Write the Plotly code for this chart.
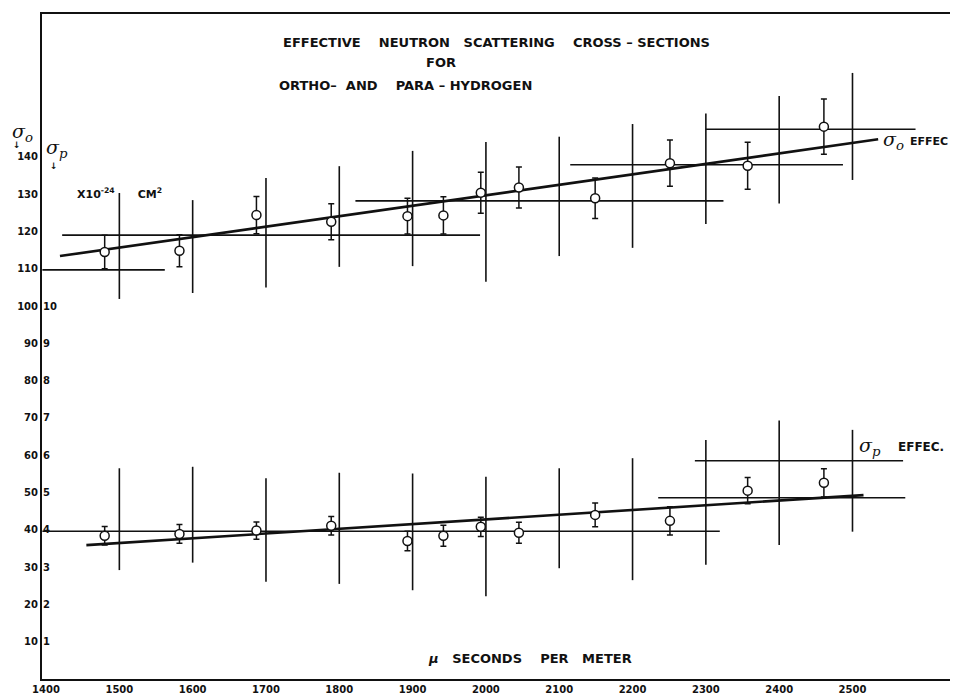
import plotly.graph_objects as go

# ---------------- data ----------------
# neutron flight time, micro-seconds per meter
speed = [1480, 1582, 1687, 1789, 1893, 1942, 1993, 2045, 2149, 2251, 2357, 2461]

# ortho-hydrogen effective cross-section, x10^-24 cm^2
ortho = [114.5, 114.8, 124.4, 122.6, 124.1, 124.3, 130.4, 131.8, 128.9, 138.3, 137.6, 148.1]
ortho_err = [4.5, 4.3, 5.0, 4.8, 4.8, 5.0, 5.5, 5.5, 5.4, 6.2, 6.3, 7.4]

# para-hydrogen effective cross-section, x10^-24 cm^2
para = [3.84, 3.89, 3.98, 4.11, 3.70, 3.84, 4.08, 3.92, 4.40, 4.24, 5.05, 5.26]
para_err = [0.25, 0.25, 0.23, 0.25, 0.26, 0.28, 0.26, 0.28, 0.32, 0.38, 0.35, 0.38]

# long vertical bars at each hundred
bar_x = [1500, 1600, 1700, 1800, 1900, 2000, 2100, 2200, 2300, 2400, 2500]
ortho_bar_lo = [101.9, 103.5, 105.0, 110.5, 110.7, 106.5, 113.4, 115.6, 122.0, 127.5, 133.8]
ortho_bar_hi = [130.3, 128.4, 134.3, 137.5, 141.6, 144.0, 145.4, 148.8, 151.6, 156.3, 162.5]
para_bar_lo = [2.92, 3.12, 2.61, 2.55, 2.38, 2.22, 2.97, 2.65, 3.06, 3.59, 3.95]
para_bar_hi = [5.65, 5.69, 5.38, 5.53, 5.51, 5.42, 5.65, 5.92, 6.41, 6.93, 6.68]

# horizontal level lines
ortho_h_start = [1395, 1422, 1822, 2115, 2300]
ortho_h_end = [1562, 1992, 2324, 2487, 2586]
ortho_h_level = [109.7, 119.0, 128.2, 137.9, 147.4]
para_h_start = [1395, 2235, 2285]
para_h_end = [2319, 2572, 2569]
para_h_level = [3.96, 4.86, 5.85]

# straight-line fits ("EFFEC")
ortho_fit_x = [1419, 2535]
ortho_fit_y = [113.4, 144.7]
para_fit_x = [1455, 2515]
para_fit_y = [3.59, 4.93]

# tick labels
x_ticks = [1400, 1500, 1600, 1700, 1800, 1900, 2000, 2100, 2200, 2300, 2400, 2500]
ortho_ticks = [10, 20, 30, 40, 50, 60, 70, 80, 90, 100, 110, 120, 130, 140]
para_ticks = [1, 2, 3, 4, 5, 6, 7, 8, 9, 10]

# ---------------- helpers ----------------
def vsegs(xs, lo, hi):
    X, Y = [], []
    for x, a, b in zip(xs, lo, hi):
        X += [x, x, None]
        Y += [a, b, None]
    return X, Y


def hsegs(x0, x1, lev):
    X, Y = [], []
    for a, b, y in zip(x0, x1, lev):
        X += [a, b, None]
        Y += [y, y, None]
    return X, Y


INK = "#111111"
fig = go.Figure()

for (lo, hi, yax) in [(ortho_bar_lo, ortho_bar_hi, "y"), (para_bar_lo, para_bar_hi, "y2")]:
    X, Y = vsegs(bar_x, lo, hi)
    fig.add_trace(go.Scatter(x=X, y=Y, yaxis=yax, mode="lines",
                             line=dict(color=INK, width=1.6), hoverinfo="skip",
                             showlegend=False))

for (a, b, lev, yax) in [(ortho_h_start, ortho_h_end, ortho_h_level, "y"),
                         (para_h_start, para_h_end, para_h_level, "y2")]:
    X, Y = hsegs(a, b, lev)
    fig.add_trace(go.Scatter(x=X, y=Y, yaxis=yax, mode="lines",
                             line=dict(color=INK, width=1.6), hoverinfo="skip",
                             showlegend=False))

fig.add_trace(go.Scatter(x=ortho_fit_x, y=ortho_fit_y, yaxis="y", mode="lines",
                         line=dict(color=INK, width=2.6), showlegend=False))
fig.add_trace(go.Scatter(x=para_fit_x, y=para_fit_y, yaxis="y2", mode="lines",
                         line=dict(color=INK, width=2.6), showlegend=False))

for (vals, errs, yax) in [(ortho, ortho_err, "y"), (para, para_err, "y2")]:
    fig.add_trace(go.Scatter(
        x=speed, y=vals, yaxis=yax, mode="markers",
        marker=dict(symbol="circle", size=9, color="white",
                    line=dict(color=INK, width=1.5)),
        error_y=dict(type="data", array=errs, visible=True, color=INK,
                     thickness=1.5, width=3),
        showlegend=False))

# ---------------- layout ----------------
L, R, T, B, W, H = 42, 3, 14, 21, 953, 700
PW, PH = W - L - R, H - T - B


def px(xp, yp):
    return (xp - L) / PW, (H - B - yp) / PH


tick_font = dict(family="DejaVu Sans", size=10, color=INK, weight="bold")
text_font = dict(family="DejaVu Sans", size=11, color=INK, weight="bold")
title_font = dict(family="DejaVu Sans", size=13, color=INK, weight="bold")
sig_font = dict(family="DejaVu Serif", size=19, color=INK, style="italic")
arrow_font = dict(family="DejaVu Sans", size=9, color=INK, weight="bold")

fig.update_layout(
    width=W, height=H,
    margin=dict(l=L, r=R, t=T, b=B, pad=0, autoexpand=False),
    paper_bgcolor="white", plot_bgcolor="white",
    xaxis=dict(range=[1394.5, 2633], tickvals=x_ticks, showgrid=False,
               zeroline=False, showline=True, linecolor=INK, linewidth=2,
               mirror=True, ticks="", tickfont=tick_font, automargin=False),
    yaxis=dict(range=[0, 178.3], tickvals=ortho_ticks, showgrid=False,
               zeroline=False, showline=True, linecolor=INK, linewidth=2,
               ticks="", tickfont=tick_font, automargin=False),
    yaxis2=dict(range=[0, 17.83], tickvals=para_ticks, overlaying="y",
                side="right", anchor="free", position=0, showgrid=False,
                zeroline=False, showline=False, ticks="", tickfont=tick_font,
                automargin=False),
)

NB = "\u00a0"


def ann(text, xp, yp, font, anchor="center"):
    x, y = px(xp, yp)
    fig.add_annotation(text=text, x=x, y=y, xref="paper", yref="paper",
                       showarrow=False, xanchor=anchor, yanchor="middle",
                       font=font)


ann(f"EFFECTIVE{NB*4}NEUTRON{NB*3}SCATTERING{NB*4}CROSS{NB}–{NB}SECTIONS", 497, 42, title_font)
ann("FOR", 441, 62, title_font)
ann(f"ORTHO–{NB*2}AND{NB*4}PARA{NB}–{NB}HYDROGEN", 405, 86, title_font)
ann(f"X10<sup>-24</sup>{NB*6}CM<sup>2</sup>", 75, 193, text_font, "left")
ann(f"<i>μ</i>{NB*3}SECONDS{NB*4}PER{NB*3}METER", 530, 658, title_font)

ann("σ<sub>o</sub>", 22, 132, sig_font)
ann("↓", 17, 145, arrow_font)
ann("σ<sub>p</sub>", 57, 148, sig_font)
ann("↓", 54, 166, arrow_font)

ann("σ<sub>o</sub>", 881, 140, sig_font, "left")
ann("EFFEC", 908, 141, text_font, "left")
ann("σ<sub>p</sub>", 857, 446, sig_font, "left")
ann("EFFEC.", 896, 447, dict(family="DejaVu Sans", size=12, color=INK, weight="bold"), "left")

fig.write_html("out.html", config={"displayModeBar": False},
               post_script="document.body.style.margin='0';document.body.style.padding='0';")
